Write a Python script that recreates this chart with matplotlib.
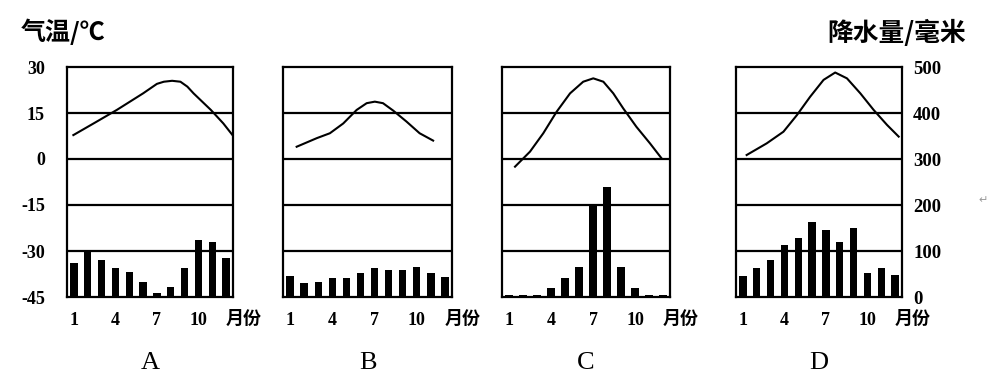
import matplotlib
matplotlib.use("Agg")
import matplotlib.pyplot as plt

plt.rcParams['font.family'] = ['Liberation Serif', 'Noto Sans CJK SC', 'DejaVu Sans']

# ---------------- data ----------------
panel_names = ["A", "B", "C", "D"]
months = list(range(1, 13))
month_ticks = [1, 4, 7, 10]
month_tick_labels = ["1", "4", "7", "10"]
temp_ticks = [30, 15, 0, -15, -30, -45]
temp_tick_labels = ["30", "15", "0", "-15", "-30", "-45"]
precip_ticks = [500, 400, 300, 200, 100, 0]
precip_tick_labels = ["500", "400", "300", "200", "100", "0"]

# temperature curves (month position, °C)
temp_A_x = [0.96, 2.5, 4.1, 6.0, 7.0, 7.5, 8.1, 8.7, 9.2, 9.65, 10.9, 11.8, 12.55]
temp_A_y = [7.8, 11.8, 16.0, 21.4, 24.5, 25.2, 25.5, 25.2, 23.6, 21.4, 16.0, 11.6, 7.3]
temp_B_x = [1.47, 2.9, 3.83, 4.78, 5.73, 6.44, 7.02, 7.6, 8.32, 9.27, 10.2, 11.16]
temp_B_y = [4.0, 6.8, 8.4, 11.6, 16.0, 18.2, 18.7, 18.2, 15.8, 12.2, 8.4, 6.0]
temp_C_x = [1.43, 2.5, 3.45, 4.4, 5.36, 6.3, 7.02, 7.74, 8.45, 9.16, 10.1, 11.07, 11.9]
temp_C_y = [-2.5, 2.4, 8.4, 15.4, 21.4, 25.2, 26.3, 25.2, 21.4, 16.5, 10.5, 5.1, 0.2]
temp_D_x = [1.27, 2.72, 3.93, 4.9, 5.86, 6.83, 7.67, 8.52, 9.49, 10.45, 11.42, 12.26]
temp_D_y = [1.3, 5.1, 8.9, 14.3, 20.3, 25.8, 28.2, 26.3, 21.4, 16.0, 11.1, 7.3]

# monthly precipitation (mm)
precip_A = [74, 100, 80, 63, 54, 33, 8, 22, 63, 124, 120, 85]
precip_B = [46, 30, 33, 41, 41, 52, 63, 59, 59, 65, 52, 43]
precip_C = [4, 4, 5, 20, 41, 66, 200, 240, 66, 20, 4, 4]
precip_D = [46, 63, 80, 113, 128, 163, 146, 119, 150, 52, 63, 48]

temp_x = [temp_A_x, temp_B_x, temp_C_x, temp_D_x]
temp_y = [temp_A_y, temp_B_y, temp_C_y, temp_D_y]
precips = [precip_A, precip_B, precip_C, precip_D]

# ---------------- layout ----------------
W, H = 989, 384
fig = plt.figure(figsize=(W / 100, H / 100), dpi=100)
fig.patch.set_facecolor("white")

boxes_px = [(67, 233), (283, 452), (502, 670), (736, 902)]
top_px, bot_px = 67, 297
ax_h = bot_px - top_px

for i, (x0, x1) in enumerate(boxes_px):
    ax = fig.add_axes([x0 / W, 1 - bot_px / H, (x1 - x0) / W, ax_h / H])
    ax.set_xlim(0.5, 12.5)
    ax.set_ylim(-45, 30)
    for s in ax.spines.values():
        s.set_linewidth(1.6)
        s.set_color("black")
    for g in [15, 0, -15, -30]:
        ax.axhline(g, color="black", lw=1.6, zorder=1)
    ax.plot(temp_x[i], temp_y[i], color="black", lw=1.5, zorder=3)

    ax.set_xticks(month_ticks)
    ax.set_xticklabels(month_tick_labels, fontsize=13, fontweight="bold")
    ax.tick_params(axis="x", length=0, pad=11)
    if i == 0:
        ax.set_yticks(temp_ticks)
        ax.set_yticklabels(temp_tick_labels, fontsize=13, fontweight="bold")
        ax.tick_params(axis="y", length=0, pad=16)
    else:
        ax.set_yticks([])

    ax2 = ax.twinx()
    ax2.set_ylim(0, 500)
    ax2.bar(months, precips[i], width=0.52, color="black", zorder=2)
    for s in ax2.spines.values():
        s.set_visible(False)
    if i == 3:
        ax2.set_yticks(precip_ticks)
        ax2.set_yticklabels(precip_tick_labels, fontsize=13.5, fontweight="bold")
        ax2.tick_params(axis="y", length=0, pad=8)
    else:
        ax2.set_yticks([])

    ax.text(11.95, -21 / ax_h, "月份", transform=ax.get_xaxis_transform(),
            ha="left", va="center", fontsize=13, fontweight="bold",
            family=["Noto Sans CJK SC"])
    ax.text(0.5, -66 / ax_h, panel_names[i], transform=ax.transAxes,
            ha="center", va="center", fontsize=19)

fig.text(21 / W, 1 - 32 / H, "气温/℃", ha="left", va="center", fontsize=18,
         fontweight="bold", family=["Noto Sans CJK SC", "DejaVu Sans"])
fig.text(966 / W, 1 - 33 / H, "降水量/毫米", ha="right", va="center", fontsize=18.5,
         fontweight="bold", family=["Noto Sans CJK SC", "DejaVu Sans"])
fig.text(983 / W, 1 - 200 / H, "↵", ha="center", va="center", fontsize=8,
         color="#999999", family=["DejaVu Sans"])

fig.savefig("out.png", dpi=100, facecolor="white")
